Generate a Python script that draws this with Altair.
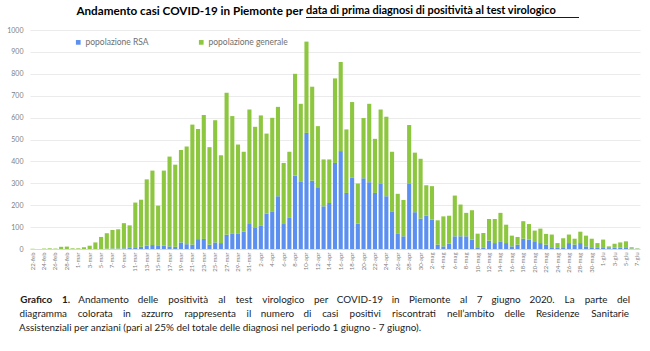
import altair as alt
import pandas as pd

# ---- data ----
mesi = [("feb", 22, 29), ("mar", 1, 31), ("apr", 1, 30), ("mag", 1, 31), ("giu", 1, 7)]
giorni = [f"{d}-{m}" for m, a, b in mesi for d in range(a, b + 1)]

totale = [1, 0, 2, 3, 2, 10, 11, 3, 3, 8,
          15, 30, 55, 72, 87, 90, 118, 108, 212, 225,
          318, 358, 198, 358, 422, 385, 452, 468, 568, 548,
          612, 465, 588, 428, 713, 607, 477, 444, 637, 558,
          610, 527, 599, 649, 393, 444, 800, 663, 947, 741,
          561, 409, 409, 779, 854, 546, 671, 299, 598, 663,
          503, 637, 604, 444, 252, 224, 566, 440, 412, 291,
          287, 131, 149, 152, 244, 203, 165, 177, 70, 73,
          137, 137, 165, 111, 61, 55, 127, 114, 84, 93,
          69, 66, 27, 49, 66, 47, 79, 61, 47, 27,
          43, 12, 24, 30, 35, 8, 3]
rsa = [0, 0, 0, 0, 0, 0, 0, 0, 0, 0,
       0, 0, 0, 1, 2, 2, 3, 5, 8, 10,
       15, 18, 14, 15, 12, 10, 30, 22, 20, 45,
       46, 20, 30, 27, 65, 69, 69, 79, 114, 96,
       108, 162, 172, 241, 114, 142, 335, 309, 530, 312,
       282, 195, 210, 393, 447, 256, 325, 116, 323, 305,
       256, 297, 241, 172, 69, 58, 297, 168, 139, 152,
       134, 20, 12, 24, 58, 58, 58, 43, 8, 5,
       38, 27, 35, 27, 12, 20, 47, 43, 32, 27,
       20, 8, 5, 8, 27, 20, 27, 12, 8, 5,
       8, 4, 6, 7, 8, 2, 1]
serie = ["popolazione RSA", "popolazione generale"]
colori = ["#5B8FF0", "#8DC63F"]
y_ticks = [0, 100, 200, 300, 400, 500, 600, 700, 800, 900, 1000]

titolo_1 = "Andamento casi COVID-19 in Piemonte per "
titolo_2 = "data di prima diagnosi di positività al test virologico"
didascalia = [
    "Grafico 1. Andamento delle positività al test virologico per COVID-19 in Piemonte al 7 giugno 2020. La parte del",
    "diagramma colorata in azzurro rappresenta il numero di casi positivi riscontrati nell’ambito delle Residenze Sanitarie",
    "Assistenziali per anziani (pari al 25% del totale delle diagnosi nel periodo 1 giugno - 7 giugno).",
]

FONT = "Lato"
W, H = 610, 219
CAP_SIZE = 9.9

rows = []
for i, g in enumerate(giorni):
    rows.append({"giorno": g, "serie": serie[0], "casi": rsa[i], "ord": 0})
    rows.append({"giorno": g, "serie": serie[1], "casi": totale[i] - rsa[i], "ord": 1})
df = pd.DataFrame(rows)

bars = alt.Chart(df).mark_bar().encode(
    x=alt.X("giorno:N", sort=giorni,
            scale=alt.Scale(paddingInner=0.28, paddingOuter=0.1),
            axis=alt.Axis(values=giorni[::2], labelAngle=270, labelFontSize=6,
                          labelColor="#7F7F7F", labelFont=FONT, labelPadding=3,
                          ticks=False, domain=True, domainColor="#D9D9D9",
                          grid=False, title=None, labelOverlap=False)),
    y=alt.Y("casi:Q", stack="zero", scale=alt.Scale(domain=[0, 1000], nice=False),
            axis=alt.Axis(values=y_ticks, format="d", labelFontSize=7, labelColor="#7F7F7F",
                          labelFont=FONT, labelPadding=7, ticks=False, domain=False,
                          gridColor="#E6E6E6", gridWidth=0.8, title=None)),
    color=alt.Color("serie:N", scale=alt.Scale(domain=serie, range=colori),
                    legend=alt.Legend(orient="none", legendX=44, legendY=8,
                                      direction="horizontal", title=None,
                                      symbolType="square", symbolSize=22,
                                      labelFontSize=8.5, labelColor="#6F6F6F",
                                      labelFont=FONT, columnPadding=48,
                                      labelOffset=3, padding=0)),
    order=alt.Order("ord:Q", sort="ascending"),
)

# ---- title (two parts, second underlined) ----
t1 = alt.Chart(pd.DataFrame({"t": [titolo_1]})).mark_text(
    align="right", baseline="middle", font=FONT, fontWeight="bold", fontSize=11.7,
    color="#000000").encode(text="t:N", x=alt.value(273), y=alt.value(-19))
t2 = alt.Chart(pd.DataFrame({"t": [titolo_2]})).mark_text(
    align="left", baseline="middle", font=FONT, fontWeight="bold", fontSize=11,
    color="#000000").encode(text="t:N", x=alt.value(276), y=alt.value(-19))
underline = alt.Chart(pd.DataFrame({"a": [0]})).mark_rule(
    color="#000000", strokeWidth=0.9).encode(
    x=alt.value(276), x2=alt.value(549), y=alt.value(-12.5))

# ---- caption, lines 1-2 justified word by word ----
def cw(ch):
    if ch in "ijl'.,|!’:;":
        return 0.25
    if ch in "ftr()-1":
        return 0.36
    if ch in "mwMW%":
        return 0.8
    if ch.isupper():
        return 0.64
    if ch.isdigit():
        return 0.55
    if ch == " ":
        return 0.22
    return 0.52

x_left, x_right = -11, 600
line3_target = 402.0
k_px = line3_target / sum(cw(c) for c in didascalia[2])
line_y = [270, 284, 298]
word_rows = []
for li in (0, 1):
    words = didascalia[li].split(" ")
    bolds = [li == 0 and k < 2 for k in range(len(words))]
    widths = [sum(cw(c) for c in w) * k_px * (1.08 if b else 1.0) for w, b in zip(words, bolds)]
    gap = (x_right - x_left - sum(widths)) / (len(words) - 1)
    pos = x_left
    for k, w in enumerate(words):
        word_rows.append({"w": w, "x": pos + widths[k] / 2, "y": line_y[li], "b": bolds[k]})
        pos += widths[k] + gap
wdf = pd.DataFrame(word_rows)

def word_layer(filt, bold):
    return alt.Chart(wdf).transform_filter(filt).mark_text(
        align="center", baseline="middle", font=FONT, fontSize=CAP_SIZE,
        fontWeight="bold" if bold else "normal", color="#1A1A1A").encode(
        text="w:N",
        x=alt.X("x:Q", scale=None, axis=None),
        y=alt.Y("y:Q", scale=None, axis=None))

cap_bold = word_layer("datum.b", True)
cap_norm = word_layer("!datum.b", False)
cap3 = alt.Chart(pd.DataFrame({"t": [didascalia[2]]})).mark_text(
    align="left", baseline="middle", font=FONT, fontSize=CAP_SIZE, color="#1A1A1A").encode(
    text="t:N", x=alt.value(x_left), y=alt.value(line_y[2]))

chart = alt.layer(bars, t1, t2, underline, cap_bold, cap_norm, cap3).resolve_scale(
    x="independent", y="independent"
).properties(
    width=W, height=H,
    autosize=alt.AutoSizeParams(type="none"),
    padding={"left": 30, "top": 30, "right": 10, "bottom": 102},
    background="#FFFFFF",
).configure_view(stroke=None)

chart.save("out.html", embed_options={"renderer": "svg", "actions": False})
